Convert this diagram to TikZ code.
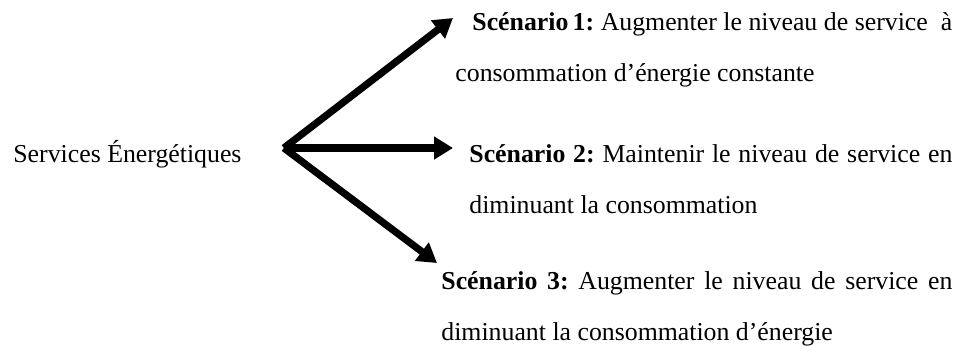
\documentclass[tikz,border=0pt]{standalone}
\usepackage{fontspec}
\setmainfont{Liberation Serif}
\usetikzlibrary{arrows.meta, positioning, calc}
\tikzstyle{service} = [inner sep=0pt, anchor=base west, font=\fontsize{12.9pt}{25.5pt}\selectfont\frenchspacing]
\tikzstyle{scenario} = [service, align=justify]
\tikzstyle{arrow} = [line width=3.6pt, -{Triangle[length=9.5pt, width=11pt]}]

\begin{document}
\begin{tikzpicture}[x=0.5pt, y=0.5pt]
    \useasboundingbox (0,0) rectangle (957,345);

    \node (src) [service] at (13,183) {Services Énergétiques};
    \coordinate (hub) at ($(src.base east)+(42,14)$);

    \node (sc1) [scenario, text width=248.5pt] at (455,315) {\hspace*{8.5pt}\textbf{Scénario\,1:} Augmenter le niveau de service \ à\linebreak consommation d'énergie constante};
    \node (sc2) [scenario, text width=241.5pt] at (469,183) {\textbf{Scénario 2:} Maintenir le niveau de service en\linebreak diminuant la consommation};
    \node (sc3) [scenario, text width=255.5pt] at (441,56) {\textbf{Scénario 3:} Augmenter le niveau de service en\linebreak diminuant la consommation d'énergie};

    \draw [arrow] (hub) -- ($(sc1.base west)+(-2,12)$);
    \draw [arrow] (hub) -- ($(sc2.base west)+(-16,14)$);
    \draw [arrow] (hub) -- ($(sc3.base west)+(-4,26)$);
\end{tikzpicture}
\end{document}
